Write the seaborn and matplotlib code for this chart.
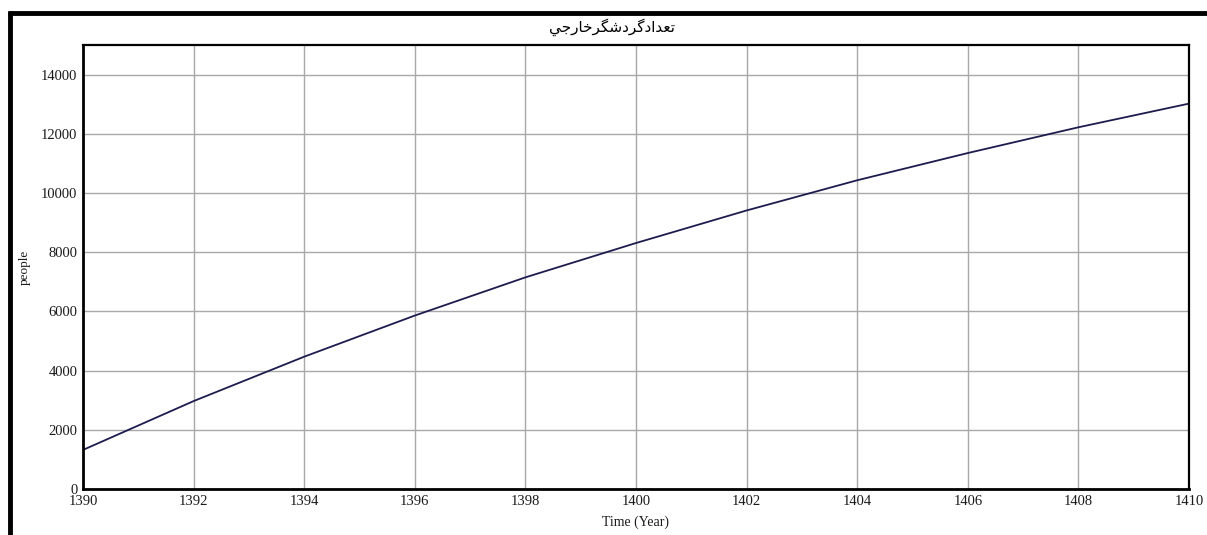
import matplotlib
matplotlib.use("Agg")
import matplotlib.pyplot as plt
import seaborn as sns
import pandas as pd
from matplotlib.lines import Line2D

# ---- data ----
years = [1390, 1392, 1394, 1396, 1398, 1400, 1402, 1404, 1406, 1408, 1410]
tourists = [1320, 2970, 4470, 5860, 7150, 8310, 9410, 10430, 11350, 12220, 13020]
x_ticks = [1390, 1392, 1394, 1396, 1398, 1400, 1402, 1404, 1406, 1408, 1410]
y_ticks = [0, 2000, 4000, 6000, 8000, 10000, 12000, 14000]
title_text = "تعدادگردشگرخارجي"
x_label = "Time (Year)"
y_label = "people"

# ---- simple Arabic/Persian shaping for display (matplotlib has no shaping) ----
FORMS = {
    "ت": ("\uFE95", "\uFE96", "\uFE97", "\uFE98"),
    "ع": ("\uFEC9", "\uFECA", "\uFECB", "\uFECC"),
    "د": ("\uFEA9", "\uFEAA"),
    "ا": ("\uFE8D", "\uFE8E"),
    "گ": ("\uFB92", "\uFB93", "\uFB94", "\uFB95"),
    "ر": ("\uFEAD", "\uFEAE"),
    "ش": ("\uFEB5", "\uFEB6", "\uFEB7", "\uFEB8"),
    "خ": ("\uFEA5", "\uFEA6", "\uFEA7", "\uFEA8"),
    "ج": ("\uFE9D", "\uFE9E", "\uFE9F", "\uFEA0"),
    "ي": ("\uFEF1", "\uFEF2", "\uFEF3", "\uFEF4"),
}


def shape(text):
    out = []
    for i, ch in enumerate(text):
        f = FORMS.get(ch)
        if f is None:
            out.append(ch)
            continue
        prev = text[i - 1] if i > 0 else None
        nxt = text[i + 1] if i + 1 < len(text) else None
        jp = prev is not None and prev in FORMS and len(FORMS[prev]) == 4
        jn = len(f) == 4 and nxt is not None and nxt in FORMS
        if jp and jn:
            out.append(f[3])
        elif jp:
            out.append(f[1])
        elif jn:
            out.append(f[2])
        else:
            out.append(f[0])
    return "".join(reversed(out))


df = pd.DataFrame({"year": years, "people": tourists})

sns.set_theme(style="white")
plt.rcParams["font.family"] = ["Liberation Serif", "DejaVu Serif"]

W, H = 1207, 535
fig = plt.figure(figsize=(W / 100, H / 100), dpi=100)
fig.patch.set_facecolor("white")

L, R, T, B = 83, 1189, 45, 489
ax = fig.add_axes([L / W, (H - B) / H, (R - L) / W, (B - T) / H])

sns.lineplot(data=df, x="year", y="people", ax=ax, color="#1c1c4e", linewidth=1.3)

ax.set_xlim(1390, 1410)
ax.set_ylim(0, 15000)
ax.set_xticks(x_ticks)
ax.set_yticks(y_ticks)
ax.set_xticklabels([str(v) for v in x_ticks])
ax.set_yticklabels([str(v) for v in y_ticks])
ax.tick_params(axis="both", length=0, labelsize=10.5, colors="#1a1a1a", pad=4)
ax.grid(True, color="#a8a8a8", linewidth=1.0)
ax.set_axisbelow(True)
for s in ax.spines.values():
    s.set_visible(True)
    s.set_color("black")
    s.set_linewidth(1.6)
ax.spines["bottom"].set_linewidth(2.0)
ax.spines["left"].set_linewidth(2.0)

ax.set_xlabel(x_label, fontsize=10, color="#1a1a1a", labelpad=6)
ax.set_ylabel(y_label, fontsize=9.5, color="#1a1a1a")
ax.yaxis.set_label_coords((31 - L) / (R - L), 0.5)

fig.text(612 / W, 1 - 27 / H, shape(title_text), ha="center", va="center",
         fontsize=11, family=["DejaVu Sans"], color="black")

# outer frame (thick left and top border)
fig.add_artist(Line2D([9.5 / W, 9.5 / W], [0, 1 - 11 / H], transform=fig.transFigure,
                      color="black", linewidth=3.5, solid_capstyle="butt"))
fig.add_artist(Line2D([7.5 / W, 1.0], [1 - 13 / H, 1 - 13 / H], transform=fig.transFigure,
                      color="black", linewidth=3.5, solid_capstyle="butt"))

fig.savefig("out.png", dpi=100, facecolor="white")
